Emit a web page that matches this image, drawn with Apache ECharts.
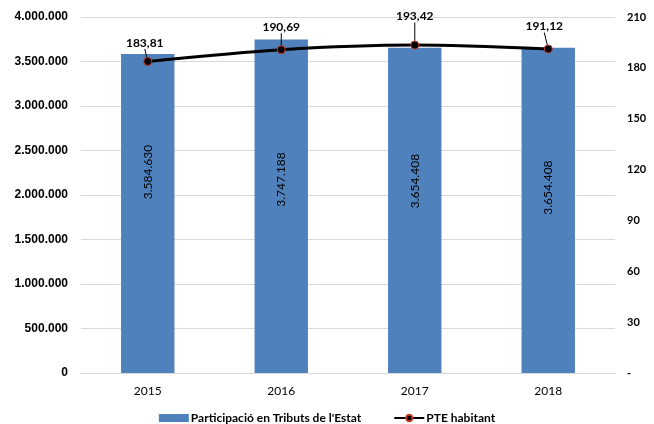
<!doctype html>
<html lang="ca">
<head>
    <meta charset="utf-8">
    <script src="https://cdn.jsdelivr.net/npm/echarts@6/dist/echarts.min.js"></script>
    <style>
        html, body { margin: 0; padding: 0; background: #fff; }
    </style>
</head>
<body>
<div id="main" style="width: 654px; height: 424px;"></div>

<script type="text/javascript">
    // dades
    var anys = ['2015', '2016', '2017', '2018'];
    var participacio = [3584630, 3747188, 3654408, 3654408];
    var pteHabitant = [183.81, 190.69, 193.42, 191.12];
    // posicio vertical de l'etiqueta dins la barra (com a l'original)
    var posEtiqueta = ['37%', '42%', '41%', '43%'];

    function fmtMiles(v) {
        return String(Math.round(v)).replace(/\B(?=(\d{3})+(?!\d))/g, '.');
    }

    var barData = participacio.map(function (v, i) {
        return { value: v, label: { position: ['50%', posEtiqueta[i]] } };
    });

    var myChart = echarts.init(document.getElementById('main'));
    myChart.setOption({
        animation: false,
        grid: { left: 81, right: 39, top: 17, bottom: 51 },
        legend: {
            bottom: 0,
            padding: 0,
            left: 'center',
            itemGap: 32,
            itemWidth: 30,
            itemHeight: 8,
            textStyle: { fontFamily: 'Lato', fontWeight: 'bold', fontSize: 12, color: '#000', padding: [0, 0, 0, -3] },
            data: [
                { name: 'Participació en Tributs de l\'Estat', icon: 'rect' },
                { name: 'PTE habitant' }
            ]
        },
        xAxis: {
            type: 'category',
            data: anys,
            axisTick: { show: false },
            axisLine: { lineStyle: { color: '#d9d9d9' } },
            axisLabel: { color: '#000', fontFamily: 'Lato', fontSize: 12, margin: 12 }
        },
        yAxis: [{
            type: 'value',
            min: 0, max: 4000000, interval: 500000,
            splitLine: { lineStyle: { color: '#d9d9d9' } },
            axisLabel: {
                color: '#000', fontFamily: 'Liberation Sans', fontWeight: 'bold', fontSize: 12, margin: 13,
                formatter: function (v) { return fmtMiles(v); }
            }
        }, {
            type: 'value',
            min: 0, max: 210, interval: 30,
            splitLine: { show: false },
            axisLabel: {
                color: '#000', fontFamily: 'Lato', fontWeight: 'bold', fontSize: 11, margin: 12,
                formatter: function (v) { return v === 0 ? '-' : v; }
            }
        }],
        series: [{
            name: 'Participació en Tributs de l\'Estat',
            type: 'bar',
            barWidth: '40%',
            itemStyle: { color: '#4f81bd' },
            label: {
                show: true,
                rotate: 90,
                align: 'center',
                verticalAlign: 'middle',
                color: '#000',
                fontFamily: 'Lato',
                fontSize: 12,
                formatter: function (p) { return fmtMiles(p.value); }
            },
            data: barData
        }, {
            name: 'PTE habitant',
            type: 'line',
            yAxisIndex: 1,
            smooth: 0.3,
            symbol: 'circle',
            symbolSize: 8,
            lineStyle: { color: '#000', width: 3 },
            itemStyle: { color: '#000', borderColor: '#c0392b', borderWidth: 1 },
            label: {
                show: true,
                position: 'top',
                distance: 4,
                color: '#000',
                fontFamily: 'Lato',
                fontWeight: 'bold',
                fontSize: 12,
                formatter: function (p) { return String(p.value.toFixed(2)).replace('.', ','); }
            },
            labelLine: { show: true, lineStyle: { color: '#000', width: 1 } },
            labelLayout: function (params) {
                var d = [[-3, -4], [0, -8], [0, -14], [-4, -8]][params.dataIndex];
                return { dx: d[0], dy: d[1] };
            },
            data: pteHabitant
        }]
    });
</script>
</body>
</html>
